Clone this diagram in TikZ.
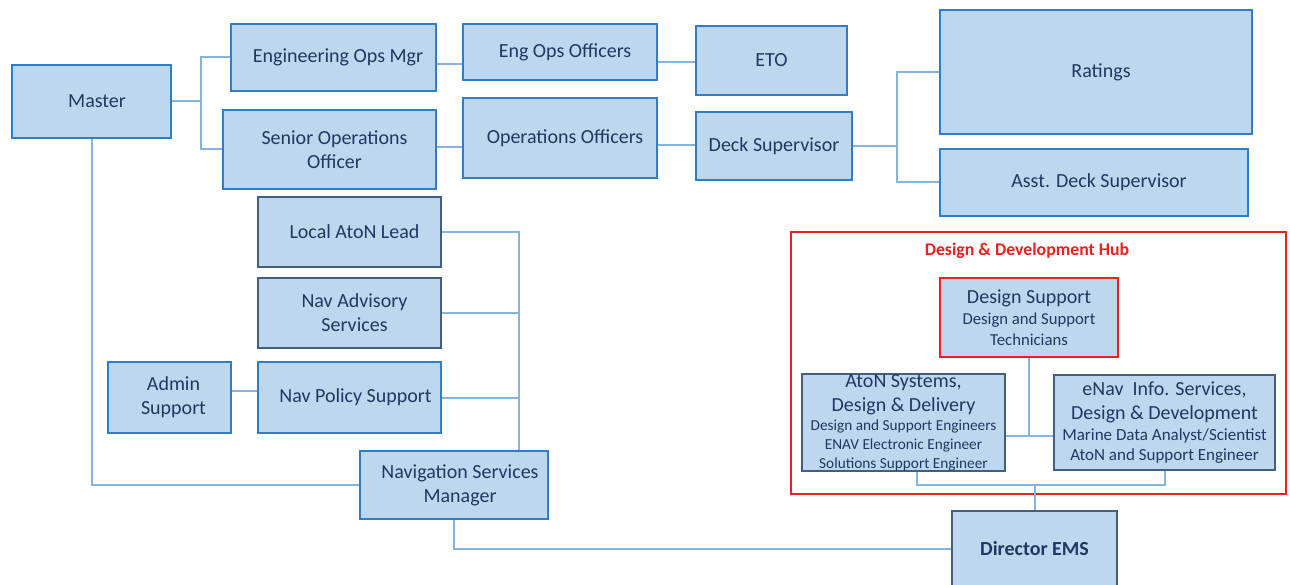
\documentclass[tikz,border=0pt]{standalone}
\usepackage{fontspec}
\setmainfont{Carlito}
\definecolor{boxfill}{HTML}{BDD7EE}
\definecolor{boxbord}{HTML}{2F7DC4}
\definecolor{darkbord}{HTML}{42607E}
\definecolor{txtc}{HTML}{1F3864}
\definecolor{connc}{HTML}{86B4E0}
\definecolor{hubred}{HTML}{F01E1E}
\newcommand{\sza}{\fontsize{16.7}{20}\selectfont}
\newcommand{\szc}{\fontsize{17}{20}\selectfont}
\newcommand{\szb}{\fontsize{15.3}{18.5}\selectfont}
\tikzset{
  box/.style={draw=boxbord, fill=boxfill, line width=1.8pt, text=txtc, align=center, inner sep=0pt,
              font=\fontsize{20}{24}\selectfont},
  darkbox/.style={box, draw=darkbord},
  redbox/.style={box, draw=hubred},
  conn/.style={draw=connc, line width=2pt}
}
\begin{document}
\begin{tikzpicture}[x=1pt,y=-1pt]
\useasboundingbox[fill=white] (0,0) rectangle (1290,585);

% top-left chain
\node[box, minimum width=159pt, minimum height=73pt] (master) at (91.5,101.5) {\hspace*{11pt}Master};
\node[box, minimum width=205pt, minimum height=67pt] (eom) at (333.5,57.5) {\hspace*{9pt}Engineering Ops Mgr};
\node[box, minimum width=213pt, minimum height=79pt] (soo) at (329.5,149.5) {\hspace*{10pt}Senior Operations\\\hspace*{10pt}Officer};
\node[box, minimum width=194pt, minimum height=56pt] (eoo) at (560,52) {\hspace*{10pt}Eng Ops Officers};
\node[box, minimum width=151pt, minimum height=69pt] (eto) at (771.5,60.5) {ETO};
\node[box, minimum width=194pt, minimum height=80pt] (ops) at (560,138) {\hspace*{10pt}Operations Officers};
\node[box, minimum width=156pt, minimum height=68pt] (deck) at (774,146) {Deck Supervisor};
\node[box, minimum width=312pt, minimum height=124pt] (rat) at (1096,72) {\hspace*{10pt}Ratings};
\node[box, minimum width=308pt, minimum height=67pt] (asst) at (1094,182.5) {\hspace*{10pt}Asst. Deck Supervisor};

% navigation services
\node[darkbox, minimum width=183pt, minimum height=70pt] (local) at (349.5,232) {\hspace*{10pt}Local AtoN Lead};
\node[darkbox, minimum width=183pt, minimum height=70pt] (adv) at (349.5,313) {\hspace*{10pt}Nav Advisory\\\hspace*{10pt}Services};
\node[box, minimum width=123pt, minimum height=71pt] (admin) at (169.5,397.5) {\hspace*{8pt}Admin\\\hspace*{8pt}Support};
\node[box, minimum width=183pt, minimum height=71pt] (policy) at (349.5,397.5) {\hspace*{12pt}Nav Policy Support};
\node[box, minimum width=188pt, minimum height=68pt] (nsm) at (454,485) {\hspace*{12pt}Navigation Services\\\hspace*{12pt}Manager};
\node[darkbox, minimum width=165pt, minimum height=76pt, font=\bfseries\fontsize{20}{24}\selectfont] (dir) at (1034.5,549) {Director EMS};

% design & development hub
\node[draw=hubred, line width=1.6pt, minimum width=495pt, minimum height=262pt, inner sep=0pt] (hub) at (1038.5,363) {};
\node[text=hubred, font=\bfseries\fontsize{17.8}{20}\selectfont, inner sep=0pt] (hubt) at (1027,251) {Design \& Development Hub};
\node[redbox, minimum width=178pt, minimum height=79pt] (dsup) at (1029,317.5)
  {Design Support\\[-3pt]\sza Design and Support\\[-3pt]\sza Technicians};
\node[darkbox, minimum width=203pt, minimum height=95pt] (aton) at (903.5,422.5)
  {AtoN Systems,\\Design \& Delivery\\[-5pt]\szb Design and Support Engineers\\[-5pt]\szb ENAV Electronic Engineer\\[-5pt]\szb Solutions Support Engineer};
\node[darkbox, minimum width=221pt, minimum height=95pt] (enav) at (1164.5,422.5)
  {eNav\ \ Info. Services,\\Design \& Development\\[-3pt]\szc Marine Data Analyst/Scientist\\[-4pt]\szc AtoN and Support Engineer};

% helper coordinates
\coordinate (r64) at (0,64);
\coordinate (r62) at (0,62);
\coordinate (r147) at (0,147);
\coordinate (r145) at (0,145);
\coordinate (r391) at (0,391);
\coordinate (nj) at (519,232);
\coordinate (r436) at (0,436);

% connectors
\draw[conn] (master.east) -- ++(29,0) coordinate (mj);
\draw[conn] (mj) |- (eom.west);
\draw[conn] (mj) |- (soo.west);
\draw[conn] (eom.east |- r64) -- (eoo.west |- r64);
\draw[conn] (eoo.east |- r62) -- (eto.west |- r62);
\draw[conn] (soo.east |- r147) -- (ops.west |- r147);
\draw[conn] (ops.east |- r145) -- (deck.west |- r145);
\draw[conn] (deck.east) -- ++(44,0) coordinate (dj);
\draw[conn] (dj) |- (rat.west);
\draw[conn] (dj) |- (asst.west);
\draw[conn] (master.south) |- (nsm.west);
\draw[conn] (local.east) -| (nsm.north -| nj);
\draw[conn] (adv.east) -- (adv.east -| nj);
\draw[conn] (policy.east) -- (policy.east -| nj);
\draw[conn] (admin.east |- r391) -- (policy.west |- r391);
\draw[conn] (nsm.south) |- (dir.west);
\draw[conn] (dsup.south) -- (dsup.south |- r436);
\draw[conn] (aton.east |- r436) -- (enav.west |- r436);
\draw[conn] ([xshift=13.5pt]aton.south) -- ++(0,13) coordinate (bj) -| (enav.south);
\draw[conn] (dir.north) -- (dir.north |- bj);
\end{tikzpicture}
\end{document}
